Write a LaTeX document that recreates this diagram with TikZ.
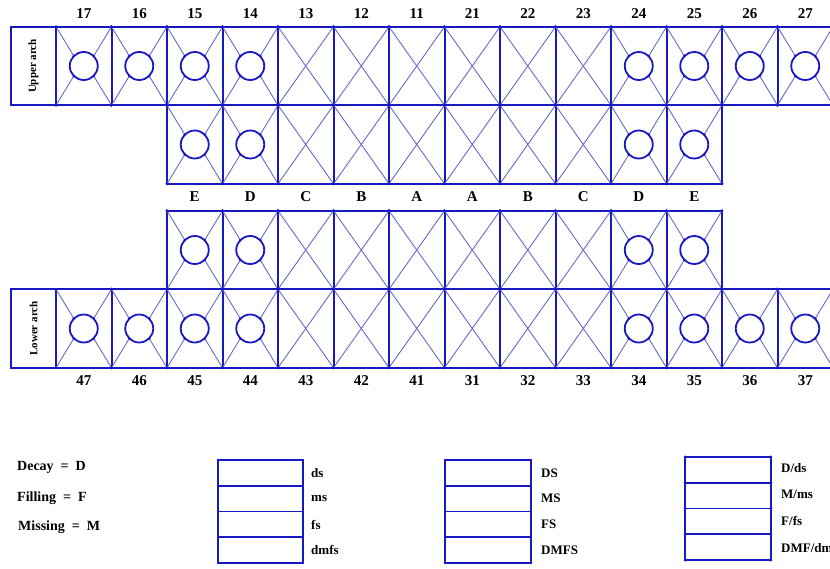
\documentclass[tikz,border=0pt]{standalone}
\usepackage{fontspec}
\setmainfont{Liberation Serif}
\usetikzlibrary{positioning}
\definecolor{arch_blue}{RGB}{25,25,195}
\definecolor{arch_diag}{RGB}{105,105,205}
\tikzset{
    x=1pt, y=-1pt,
    font=\bfseries,
    arch_cell/.style={
        rectangle,
        draw=arch_blue,
        line width=2pt,
        minimum width=55.5pt,
        minimum height=78.5pt,
        inner sep=0pt,
        outer sep=0pt
    },
    arch_seal/.style={
        circle,
        draw=arch_blue,
        line width=1.8pt,
        minimum size=28pt,
        inner sep=0pt,
        outer sep=0pt
    },
    arch_diag/.style={
        draw=arch_diag,
        line width=0.9pt
    },
    arch_num/.style={
        font=\fontsize{15}{17}\bfseries,
        inner sep=0pt
    },
    arch_side/.style={
        rotate=90,
        font=\fontsize{11}{13}\bfseries,
        inner sep=0pt
    },
    key_cell/.style={
        rectangle,
        draw=arch_blue,
        line width=1.6pt,
        minimum width=85.5pt,
        minimum height=25.75pt,
        inner sep=0pt,
        outer sep=0pt
    },
    key_text/.style={
        anchor=west,
        font=\fontsize{13}{15}\bfseries,
        inner sep=0pt
    },
    key_code/.style={
        anchor=west,
        font=\fontsize{14}{16}\bfseries,
        inner sep=0pt
    }
}
% cell with a sealed surface (circle)
\newcommand{\sealcell}[3]{
    \node[arch_cell] (#1) at ({#2},{#3}) {};
    \node[arch_seal] (#1s) at (#1) {};
    \foreach \a in {north west, north east, south west, south east} {
        \draw[arch_diag] (#1.\a) -- (#1s.\a);
        \fill[arch_blue] (#1s.\a) circle (1.5pt);
        \fill[arch_blue] (#1.\a) circle (1.6pt);
    }
}
% cell with a plain cross
\newcommand{\crosscell}[3]{
    \node[arch_cell] (#1) at ({#2},{#3}) {};
    \draw[arch_diag] (#1.north west) -- (#1.south east) (#1.north east) -- (#1.south west);
    \foreach \a in {north west, north east, south west, south east}
        \fill[arch_blue] (#1.\a) circle (1.6pt);
}

\begin{document}
\begin{tikzpicture}
\clip (0,0) rectangle (830,568);
\fill[white] (0,0) rectangle (830,568);

% --- Upper arch ---
\node[arch_cell, minimum width=45pt] (UpperBox) at (33.5,66) {};
\node[arch_side] (UpperText) at (UpperBox) {Upper arch};
\foreach \i/\t in {0/17,1/16,2/15,3/14,10/24,11/25,12/26,13/27}
    {\sealcell{U\t}{83.75+55.5*\i}{66}}
\foreach \i/\t in {4/13,5/12,6/11,7/21,8/22,9/23}
    {\crosscell{U\t}{83.75+55.5*\i}{66}}
\foreach \i/\t in {0/17,1/16,2/15,3/14,4/13,5/12,6/11,7/21,8/22,9/23,10/24,11/25,12/26,13/27}
    \node[arch_num] (N\t) at ({83.75+55.5*\i},14) {\t};

% --- Upper inner row ---
\foreach \i in {2,3,10,11}
    {\sealcell{UI\i}{83.75+55.5*\i}{144.5}}
\foreach \i in {4,...,9}
    {\crosscell{UI\i}{83.75+55.5*\i}{144.5}}

% --- Letters ---
\foreach \i/\l in {2/E,3/D,4/C,5/B,6/A,7/A,8/B,9/C,10/D,11/E}
    \node[arch_num] (L\i) at ({83.75+55.5*\i},197) {\l};

% --- Lower inner row ---
\foreach \i in {2,3,10,11}
    {\sealcell{LI\i}{83.75+55.5*\i}{250}}
\foreach \i in {4,...,9}
    {\crosscell{LI\i}{83.75+55.5*\i}{250}}

% --- Lower arch ---
\node[arch_cell, minimum width=45pt] (LowerBox) at (33.5,328.5) {};
\node[arch_side] (LowerText) at (LowerBox) {Lower arch};
\foreach \i/\t in {0/47,1/46,2/45,3/44,10/34,11/35,12/36,13/37}
    {\sealcell{D\t}{83.75+55.5*\i}{328.5}}
\foreach \i/\t in {4/43,5/42,6/41,7/31,8/32,9/33}
    {\crosscell{D\t}{83.75+55.5*\i}{328.5}}
\foreach \i/\t in {0/47,1/46,2/45,3/44,4/43,5/42,6/41,7/31,8/32,9/33,10/34,11/35,12/36,13/37}
    \node[arch_num] (N\t) at ({83.75+55.5*\i},381) {\t};

% --- Key ---
\node[key_code] (KeyD) at (17,467) {Decay~~=~~D};
\node[key_code] (KeyF) at (17,498) {Filling~~=~~F};
\node[key_code] (KeyM) at (18,527) {Missing~~=~~M};

\foreach \r/\txt in {0/ds,1/ms,2/fs,3/dmfs} {
    \node[key_cell] (KA\r) at (260.5,{472.9+25.75*\r}) {};
    \node[key_text] (KAt\r) at (311,{473+25.75*\r}) {\txt};
}
\foreach \r/\txt in {0/DS,1/MS,2/FS,3/DMFS} {
    \node[key_cell] (KB\r) at (488,{472.9+25.75*\r}) {};
    \node[key_text] (KBt\r) at (541,{473+25.75*\r}) {\txt};
}
\foreach \r/\txt in {0/D\slash ds,1/M\slash ms,2/F\slash fs,3/DMF\slash dmfs} {
    \node[key_cell] (KC\r) at (728,{469.9+25.75*\r}) {};
    \node[key_text] (KCt\r) at (781,{468+26.5*\r}) {\txt};
    \foreach \a in {north west, north east, south west, south east}
        \fill[arch_blue] (KC\r.\a) circle (1.6pt);
}

\end{tikzpicture}
\end{document}
